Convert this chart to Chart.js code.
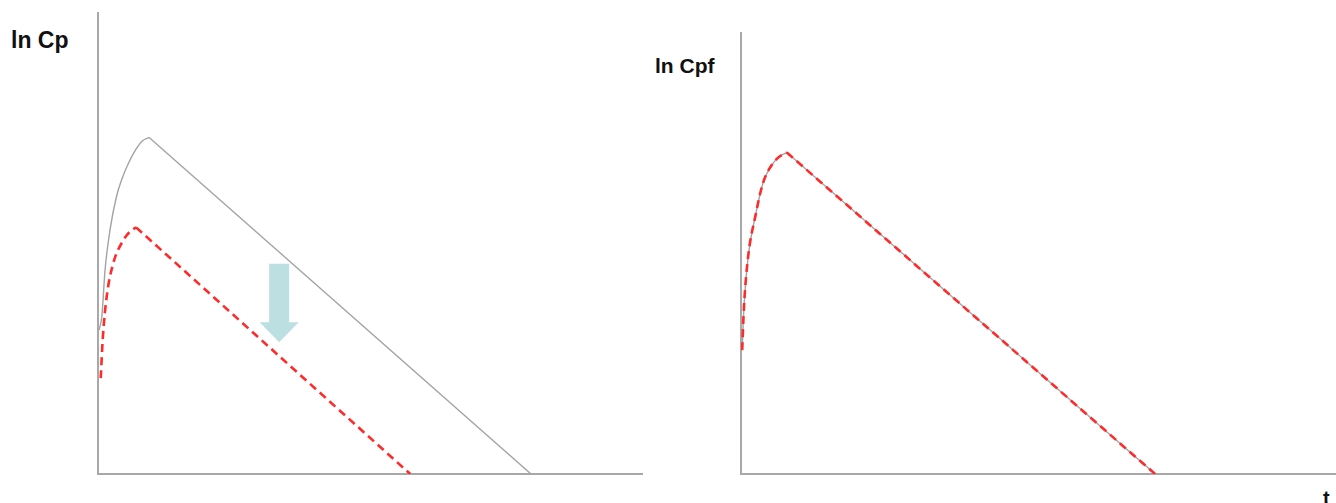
<!DOCTYPE html>
<html>
<head>
<meta charset="utf-8">
<script src="https://cdn.jsdelivr.net/npm/chart.js@4.4.1/dist/chart.umd.min.js"></script>
<style>
  html, body { margin: 0; padding: 0; background: #fff; overflow: hidden; }
  body { width: 1336px; height: 503px; position: relative; font-family: "Liberation Sans", Arial, sans-serif; }
  canvas { position: absolute; }
  .lbl { position: absolute; font-weight: bold; line-height: 1; color: #111; white-space: nowrap; }
</style>
</head>
<body>
<div class="lbl" style="left:11px; top:29px; font-size:23px;">ln Cp</div>
<div class="lbl" style="left:655px; top:55px; font-size:21px;">ln Cpf</div>
<div class="lbl" style="left:1323px; top:488px; font-size:20px;">t</div>
<canvas id="left" width="564" height="481" style="left:88px; top:3px;"></canvas>
<canvas id="right" width="605" height="461" style="left:731px; top:23px;"></canvas>
<script>
// left panel: total plasma concentration, before (grey) and after (red) the shift
const totalRiseT = [0.2, 0.7, 1.3, 2.2, 3.4, 4.4, 5.6, 6.9, 8.2, 9.4];
const totalRiseLnC = [31.2, 34.1, 44.3, 52.9, 60.2, 64.0, 67.4, 70.3, 72.3, 73.0];
const totalFallT = [9.4, 79.6];
const totalFallLnC = [73.0, 0];

const shiftedRiseT = [0.5, 0.9, 1.6, 2.8, 4.7, 5.9, 7.0];
const shiftedRiseLnC = [20.8, 29.8, 38.5, 45.7, 50.8, 52.6, 53.5];
const shiftedFallT = [7.0, 57.4];
const shiftedFallLnC = [53.5, 0];

// arrow showing the downward shift (x, from, to in data units)
const shiftArrow = {t: 33.3, from: 45.6, to: 28.6};

// right panel: free concentration, unchanged
const freeRiseT = [0.2, 0.5, 1.2, 2.4, 3.7, 5.4, 6.6, 7.7];
const freeRiseLnC = [28.1, 37.9, 49.3, 58.4, 66.0, 70.5, 72.1, 72.9];
const freeFallT = [7.7, 69.6];
const freeFallLnC = [72.9, 0];

const GREY = "#a3a3a3";
const RED = "#ff2a2a";
const AXIS = "#a8a8a8";

const toPoints = (xs, ys) => xs.map((x, i) => ({x, y: ys[i]}));

const grey = (xs, ys) => ({
    data: toPoints(xs, ys),
    borderColor: GREY,
    borderWidth: 1.4,
    pointRadius: 0,
    cubicInterpolationMode: "monotone",
    tension: 0.4
});
const red = (xs, ys) => ({
    data: toPoints(xs, ys),
    borderColor: RED,
    borderWidth: 2.6,
    borderDash: [8, 5],
    pointRadius: 0,
    cubicInterpolationMode: "monotone",
    tension: 0.4
});

const axis = () => ({
    type: "linear",
    min: 0,
    max: 100,
    grid: {display: false, drawTicks: false},
    ticks: {display: false},
    border: {display: true, color: AXIS, width: 2}
});

const arrowPlugin = {
    id: "shiftArrow",
    afterDatasetsDraw(chart) {
        const {ctx, scales: {x, y}} = chart;
        const cx = x.getPixelForValue(shiftArrow.t);
        const top = y.getPixelForValue(shiftArrow.from);
        const tip = y.getPixelForValue(shiftArrow.to);
        const headLen = 20, shaftHalf = 10, headHalf = 19.5;
        ctx.save();
        ctx.fillStyle = "#bcdfe2";
        ctx.beginPath();
        ctx.moveTo(cx - shaftHalf, top);
        ctx.lineTo(cx + shaftHalf, top);
        ctx.lineTo(cx + shaftHalf, tip - headLen);
        ctx.lineTo(cx + headHalf, tip - headLen);
        ctx.lineTo(cx, tip);
        ctx.lineTo(cx - headHalf, tip - headLen);
        ctx.lineTo(cx - shaftHalf, tip - headLen);
        ctx.closePath();
        ctx.fill();
        ctx.restore();
    }
};

const baseOptions = padding => ({
    responsive: false,
    animation: false,
    layout: {padding},
    plugins: {legend: {display: false}, tooltip: {enabled: false}},
    scales: {x: axis(), y: axis()}
});

new Chart("left", {
    type: "line",
    data: {
        datasets: [
            red(shiftedRiseT, shiftedRiseLnC),
            red(shiftedFallT, shiftedFallLnC),
            grey(totalRiseT, totalRiseLnC),
            grey(totalFallT, totalFallLnC)
        ]
    },
    options: baseOptions({left: 10, right: 10, top: 10, bottom: 10}),
    plugins: [arrowPlugin]
});

new Chart("right", {
    type: "line",
    data: {
        datasets: [
            red(freeRiseT, freeRiseLnC),
            red(freeFallT, freeFallLnC),
            grey(freeRiseT, freeRiseLnC),
            grey(freeFallT, freeFallLnC)
        ]
    },
    options: baseOptions({left: 10, right: 0, top: 10, bottom: 10})
});
</script>
</body>
</html>
